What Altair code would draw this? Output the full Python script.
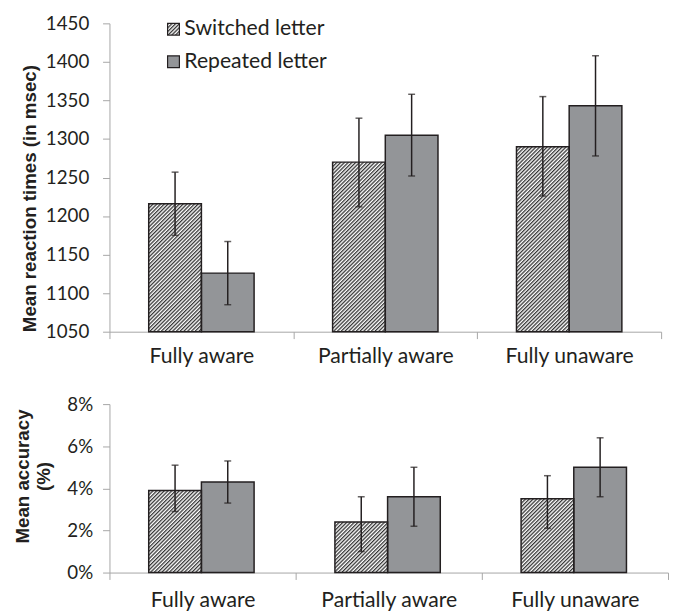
import base64
import altair as alt
import pandas as pd

categories = ["Fully aware", "Partially aware", "Fully unaware"]
conditions = ["Switched letter", "Repeated letter"]

rt_switched = [1216, 1270, 1290]
rt_switched_lo = [1175, 1212, 1226]
rt_switched_hi = [1257, 1327, 1355]
rt_repeated = [1126, 1305, 1343]
rt_repeated_lo = [1085, 1252, 1278]
rt_repeated_hi = [1167, 1358, 1408]

acc_switched = [3.9, 2.4, 3.5]
acc_switched_lo = [2.9, 1.0, 2.1]
acc_switched_hi = [5.1, 3.6, 4.6]
acc_repeated = [4.3, 3.6, 5.0]
acc_repeated_lo = [3.3, 2.2, 3.6]
acc_repeated_hi = [5.3, 5.0, 6.4]

rt_ticks = [1050, 1100, 1150, 1200, 1250, 1300, 1350, 1400, 1450]
acc_ticks = [0, 2, 4, 6, 8]

INK = "#231f20"
GREY = "#939598"
AXIS_GREY = "#a6a6a6"
TEXT_SIZE = 21.5

hatch_svg = (
    "<svg xmlns='http://www.w3.org/2000/svg' width='100%' height='100%'>"
    "<defs><pattern id='h' width='2.7' height='2.7' patternUnits='userSpaceOnUse' "
    "patternTransform='rotate(45)'><rect width='2.7' height='2.7' fill='#ffffff'/>"
    "<rect width='1.3' height='2.7' fill='#333333'/></pattern></defs>"
    "<rect width='100%' height='100%' fill='url(#h)'/></svg>"
)
HATCH_URL = "data:image/svg+xml;base64," + base64.b64encode(hatch_svg.encode()).decode()


def make_df(sw, sw_lo, sw_hi, rp, rp_lo, rp_hi):
    rows = []
    for i, c in enumerate(categories):
        rows.append({"category": c, "condition": conditions[0], "mean": sw[i], "lo": sw_lo[i], "hi": sw_hi[i]})
        rows.append({"category": c, "condition": conditions[1], "mean": rp[i], "lo": rp_lo[i], "hi": rp_hi[i]})
    return pd.DataFrame(rows)


def panel(df, domain, yaxis, xaxis, width, height, legend=False):
    yscale = alt.Scale(domain=domain, zero=False, nice=False)
    base = alt.Chart(df).encode(
        x=alt.X("category:N", sort=categories,
                scale=alt.Scale(paddingInner=0, paddingOuter=0), axis=xaxis),
        xOffset=alt.XOffset("condition:N", sort=conditions,
                            scale=alt.Scale(domain=conditions, paddingInner=0, paddingOuter=0.745)),
    )

    def Y(field):
        return alt.Y(field, scale=yscale, axis=yaxis)

    bars = base.mark_bar(strokeWidth=0).encode(
        y=Y("mean:Q"), y2=alt.datum(domain[0]),
        fill=alt.Fill("condition:N", scale=alt.Scale(domain=conditions, range=["#ffffff", GREY]), legend=None),
    )
    hatch = base.transform_filter(alt.datum.condition == conditions[0]).mark_image(aspect=False).encode(
        y=Y("mean:Q"), y2=alt.datum(domain[0]), url=alt.value(HATCH_URL)
    )
    outline = base.mark_bar(fillOpacity=0, stroke=INK, strokeWidth=1.5).encode(
        y=Y("mean:Q"), y2=alt.datum(domain[0])
    )
    rule = base.mark_rule(color=INK, strokeWidth=1.5).encode(y=Y("lo:Q"), y2="hi:Q")
    cap_lo = base.mark_tick(color=INK, size=7, thickness=1.5).encode(y=Y("lo:Q"))
    cap_hi = base.mark_tick(color=INK, size=7, thickness=1.5).encode(y=Y("hi:Q"))
    layers = [bars, hatch, outline, rule, cap_lo, cap_hi]

    if legend:
        ldf1 = pd.DataFrame({"label": [conditions[0]]})
        ldf2 = pd.DataFrame({"label": [conditions[1]]})
        sw_img = alt.Chart(ldf1).mark_image(aspect=False, width=12, height=12, align="left", baseline="top").encode(
            x=alt.value(59), y=alt.value(0), url=alt.value(HATCH_URL))
        sw_box = alt.Chart(ldf1).mark_rect(fillOpacity=0, stroke=INK, strokeWidth=1.2).encode(
            x=alt.value(59), x2=alt.value(71), y=alt.value(0), y2=alt.value(12))
        rp_box = alt.Chart(ldf2).mark_rect(fill=GREY, stroke=INK, strokeWidth=1.2).encode(
            x=alt.value(59), x2=alt.value(71), y=alt.value(33), y2=alt.value(45))
        t1 = alt.Chart(ldf1).mark_text(align="left", baseline="middle", font="Lato", fontSize=TEXT_SIZE, color=INK).encode(
            x=alt.value(76), y=alt.value(6), text="label:N")
        t2 = alt.Chart(ldf2).mark_text(align="left", baseline="middle", font="Lato", fontSize=TEXT_SIZE, color=INK).encode(
            x=alt.value(76), y=alt.value(39), text="label:N")
        layers += [sw_img, sw_box, rp_box, t1, t2]

    return alt.layer(*layers).properties(width=width, height=height)


rt_df = make_df(rt_switched, rt_switched_lo, rt_switched_hi, rt_repeated, rt_repeated_lo, rt_repeated_hi)
acc_df = make_df(acc_switched, acc_switched_lo, acc_switched_hi, acc_repeated, acc_repeated_lo, acc_repeated_hi)

top_y = alt.Axis(values=rt_ticks, format="d", title="Mean reaction times (in msec)", tickSize=7,
                 labelPadding=14, labelFontSize=19, titlePadding=6, titleAnchor="start")
top_x = alt.Axis(title=None, tickBand="extent", labelAngle=0, tickSize=7, labelPadding=7.5,
                 labelFontSize=TEXT_SIZE)
bot_y = alt.Axis(values=acc_ticks, title=["Mean accuracy", "(%)"], tickSize=7, labelPadding=10,
                 labelFontSize=19, titlePadding=14, titleLineHeight=21, titleY=73,
                 labelExpr="datum.value + '%'")
bot_x = alt.Axis(title=None, tickBand="extent", labelAngle=0, tickSize=7, labelPadding=10.5,
                 labelFontSize=TEXT_SIZE)

top = panel(rt_df, [1050, 1450], top_y, top_x, 560, 313, legend=True)
bottom = panel(acc_df, [0, 8], bot_y, bot_x, 567, 171)

chart = alt.vconcat(top, bottom, spacing=28.5).properties(
    padding={"left": 5, "top": 2, "right": 0, "bottom": 0}
).configure_view(stroke=None).configure_axis(
    grid=False, domainColor=AXIS_GREY, tickColor=AXIS_GREY,
    labelFont="Lato", labelColor=INK,
    titleFont="Liberation Sans", titleFontSize=19, titleFontWeight="bold", titleColor=INK,
)

chart.save("out.html", embed_options={"renderer": "svg", "actions": False})
